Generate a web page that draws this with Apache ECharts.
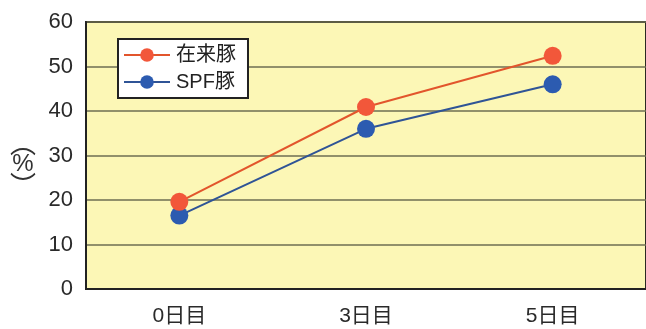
<!DOCTYPE html>
<html>
<head>
<meta charset="utf-8">
<script src="https://cdn.jsdelivr.net/npm/echarts@6/dist/echarts.min.js"></script>
<style>
  html, body { margin: 0; padding: 0; background: #ffffff; }
  #chart { width: 646px; height: 329px; }
</style>
</head>
<body>
<div id="chart"></div>
<script>
// Days after slaughter and measured percentages per pig type
const categories = ['0日目', '3日目', '5日目'];
const zairai = [19.6, 40.9, 52.4];   // 在来豚
const spf = [16.5, 36.0, 46.0];      // SPF豚
const yTicks = [0, 10, 20, 30, 40, 50, 60];

const font = '"Liberation Sans", "Noto Sans CJK JP", sans-serif';

const chart = echarts.init(document.getElementById('chart'), null, { renderer: 'canvas' });
chart.setOption({
  backgroundColor: '#ffffff',
  animation: false,
  grid: {
    left: 86, right: -4, top: 22, bottom: 40,
    show: true,
    backgroundColor: '#fcf7b6',
    borderColor: '#2a2a22',
    borderWidth: 2
  },
  legend: {
    left: 118, top: 39,
    orient: 'vertical',
    backgroundColor: '#ffffff',
    borderColor: '#222222',
    borderWidth: 2,
    borderRadius: 0,
    padding: [6, 12, 6, 5],
    itemGap: 7,
    itemWidth: 46,
    itemHeight: 17,
    textStyle: { fontFamily: font, fontSize: 20, color: '#222222', padding: [0, 0, 0, 1] },
    data: ['在来豚', 'SPF豚']
  },
  xAxis: {
    type: 'category',
    data: categories,
    boundaryGap: true,
    axisLine: { show: true, lineStyle: { color: '#222222', width: 2 } },
    axisTick: { show: false },
    axisLabel: { fontFamily: font, fontSize: 21, color: '#2a2a2a', margin: 17 }
  },
  yAxis: {
    type: 'value',
    min: yTicks[0],
    max: yTicks[yTicks.length - 1],
    interval: 10,
    name: '{p|︵}\n{t|%}\n{p|︶}',
    nameLocation: 'middle',
    nameRotate: 0,
    nameGap: 63,
    nameTextStyle: {
      align: 'center',
      color: '#333333',
      padding: [18, 0, 0, 0],
      rich: {
        p: { fontFamily: '"Noto Sans CJK JP", sans-serif', fontSize: 26, lineHeight: 20, color: '#333333', align: 'center' },
        t: { fontFamily: font, fontSize: 24, lineHeight: 22, color: '#333333', align: 'center' }
      }
    },
    axisLine: { show: true, lineStyle: { color: '#222222', width: 2 } },
    axisTick: { show: false },
    axisLabel: { fontFamily: font, fontSize: 22, color: '#2a2a2a', margin: 13 },
    splitLine: { show: true, lineStyle: { color: '#6e6e52', width: 1.5 } }
  },
  series: [
    {
      name: '在来豚',
      type: 'line',
      data: zairai,
      symbol: 'circle',
      symbolSize: 18,
      lineStyle: { color: '#e2552c', width: 2 },
      itemStyle: { color: '#f2573a' },
      z: 3
    },
    {
      name: 'SPF豚',
      type: 'line',
      data: spf,
      symbol: 'circle',
      symbolSize: 18,
      lineStyle: { color: '#2f5496', width: 2 },
      itemStyle: { color: '#2c5bb0' },
      z: 2
    }
  ]
});
</script>
</body>
</html>
